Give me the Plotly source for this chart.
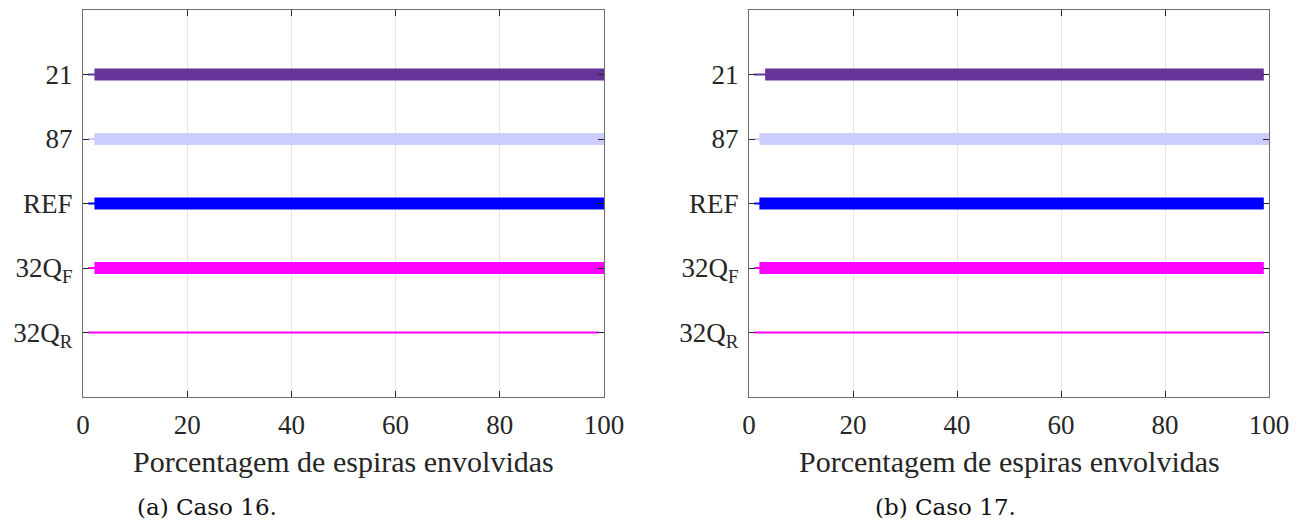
import plotly.graph_objects as go

W, H = 1307, 526
OFF = 8  # page body margin offset

categories = ["21", "87", "REF", "32Q<sub>F</sub>", "32Q<sub>R</sub>"]
colors = ["#663399", "#CCCCFF", "#0000FF", "#FF00FF", "#FF00FF"]

# Caso 16
a_thin_low = [1, 1, 1, 1, 1]
a_thin_high = [100, 100, 100, 100, 99]
a_thick_low = [2.2, 2.2, 2.2, 2.2, None]
a_thick_high = [100, 100, 100, 100, None]

# Caso 17
b_thin_low = [1, 1, 1, 1, 1]
b_thin_high = [99, 100, 99, 99, 99]
b_thick_low = [3.1, 2.0, 2.0, 2.0, None]
b_thick_high = [99, 100, 99, 99, None]

x_ticks = [0, 20, 40, 60, 80, 100]
x_title = "Porcentagem de espiras envolvidas"
captions = ["(a) Caso 16.", "(b) Caso 17."]

FONT = "Liberation Serif"

fig = go.Figure()

panels = [
    ("x", "y", a_thin_low, a_thin_high, a_thick_low, a_thick_high),
    ("x2", "y2", b_thin_low, b_thin_high, b_thick_low, b_thick_high),
]
for xa, ya, tl, th, kl, kh in panels:
    for i, cat in enumerate(categories):
        fig.add_trace(go.Scatter(x=[tl[i], th[i]], y=[cat, cat], mode="lines",
                                 line=dict(color=colors[i], width=2),
                                 xaxis=xa, yaxis=ya, showlegend=False, hoverinfo="skip"))
        if kl[i] is not None:
            fig.add_trace(go.Scatter(x=[kl[i], kh[i]], y=[cat, cat], mode="lines",
                                     line=dict(color=colors[i], width=12),
                                     xaxis=xa, yaxis=ya, showlegend=False, hoverinfo="skip"))

def px(v):
    return (v - OFF) / W

def py(v):
    return 1 - (v - OFF) / H

ydom = [py(397), py(10)]
xdoms = [[px(83), px(604)], [px(749), px(1269)]]

axis_common = dict(showline=True, linecolor="#6e6e6e", linewidth=1.3, mirror="ticks",
                   ticks="inside", ticklen=6, tickcolor="#262626", tickwidth=1,
                   tickfont=dict(family=FONT, size=27, color="#262626"), zeroline=False,
                   automargin=False)

for k, (xa, ya) in enumerate([("xaxis", "yaxis"), ("xaxis2", "yaxis2")]):
    fig.layout[xa] = dict(domain=xdoms[k], range=[0, 100], tickvals=x_ticks,
                          showgrid=True, gridcolor="#e4e4e4", gridwidth=1,
                          anchor="y" if k == 0 else "y2", ticklabelstandoff=3,
                          **axis_common)
    fig.layout[ya] = dict(domain=ydom, type="category",
                          categoryorder="array", categoryarray=categories[::-1],
                          range=[-1, 5], showgrid=False,
                          anchor="x" if k == 0 else "x2", ticklabelstandoff=4,
                          **axis_common)
    cx = (xdoms[k][0] + xdoms[k][1]) / 2
    fig.add_annotation(text=x_title, x=cx, y=py(461), xref="paper", yref="paper",
                       showarrow=False, xanchor="center", yanchor="middle",
                       font=dict(family=FONT, size=30, color="#262626"))

cap_x = [207, 945]
for k, c in enumerate(captions):
    fig.add_annotation(text=c, x=px(cap_x[k]), y=py(507), xref="paper", yref="paper",
                       showarrow=False, xanchor="center", yanchor="middle",
                       font=dict(family="DejaVu Serif", size=23, color="#111111"))

fig.update_layout(width=W, height=H, margin=dict(l=0, r=0, t=0, b=0, autoexpand=False),
                  paper_bgcolor="white", plot_bgcolor="white")

fig.write_html("out.html")
